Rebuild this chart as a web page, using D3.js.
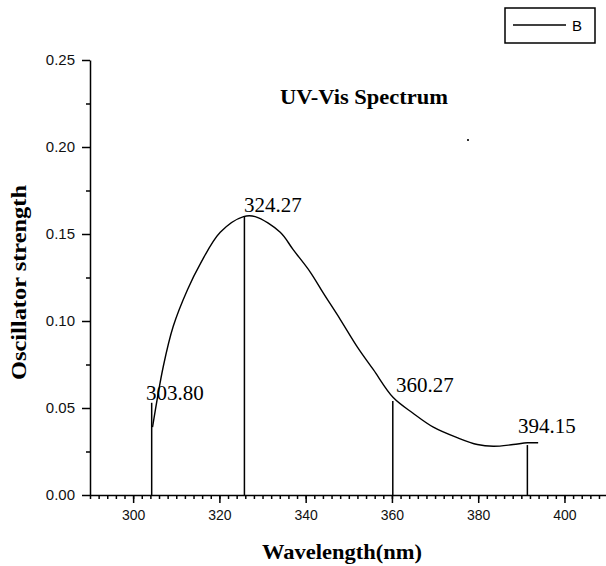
<!DOCTYPE html>
<meta charset="utf-8">
<style>
  body { margin: 0; background: #fff; }
  svg { display: block; }
</style>
<script src="https://d3js.org/d3.v7.min.js"></script>
<div id="chart"></div>
<script>
// curve (wavelength, oscillator strength)
var curveX = [304.5, 307.0, 309.3, 312.6, 315.6, 320.2, 325.6, 328.3, 334.1, 337.1, 341.1, 344.1, 348.0, 352.0, 355.7, 360.3, 364.9, 369.6, 375.1, 379.8, 383.5, 388.1, 391.4, 393.9];
var curveY = [0.039, 0.074, 0.097, 0.118, 0.133, 0.151, 0.160, 0.160, 0.151, 0.141, 0.128, 0.116, 0.101, 0.085, 0.072, 0.056, 0.047, 0.039, 0.033, 0.029, 0.028, 0.029, 0.030, 0.030];

// the sticks and their labels
var stickX = [304.3, 325.8, 360.2, 391.4];
var stickY = [0.053, 0.160, 0.054, 0.0287];
var stickLabels = ["303.80", "324.27", "360.27", "394.15"];

var xTicks = [300, 320, 340, 360, 380, 400];
var yTicks = [0, 0.05, 0.10, 0.15, 0.20, 0.25];

var W = 606, H = 566;
var svg = d3.select("#chart").append("svg")
    .attr("width", W).attr("height", H);

var x = d3.scaleLinear().domain([290, 410]).range([90, 607.6]);
var y = d3.scaleLinear().domain([0, 0.25]).range([495, 60]);

// x axis, minor ticks then major
svg.append("g")
    .attr("transform", "translate(0,495)")
    .call(d3.axisBottom(x).tickValues(d3.range(290, 411, 2)).tickSize(4).tickSizeOuter(0).tickFormat(""))
    .call(g => g.select(".domain").remove());
svg.append("g")
    .attr("transform", "translate(0,495)")
    .call(d3.axisBottom(x).tickValues(xTicks).tickSize(8).tickSizeOuter(0).tickPadding(7).tickFormat(d3.format("d")))
    .call(g => g.selectAll("text").attr("font-size", 14).attr("fill", "#111").attr("font-family", "Liberation Sans, Arial, sans-serif"));

// y axis
svg.append("g")
    .attr("transform", "translate(90,0)")
    .call(d3.axisLeft(y).tickValues([0.025, 0.075, 0.125, 0.175, 0.225]).tickSize(4).tickSizeOuter(0).tickFormat(""))
    .call(g => g.select(".domain").remove());
svg.append("g")
    .attr("transform", "translate(90,0)")
    .call(d3.axisLeft(y).tickValues(yTicks).tickSize(8).tickSizeOuter(0).tickPadding(7).tickFormat(d3.format(".2f")))
    .call(g => g.selectAll("text").attr("font-size", 15).attr("fill", "#111").attr("font-family", "Liberation Sans, Arial, sans-serif"));

svg.selectAll(".domain, .tick line").attr("stroke", "#000").attr("stroke-width", 1.5);

// sticks
svg.selectAll("line.stick")
  .data(stickX)
  .enter().append("line")
    .attr("class", "stick")
    .attr("x1", d => x(d)).attr("x2", d => x(d))
    .attr("y1", y(0))
    .attr("y2", (d, i) => y(stickY[i]))
    .attr("stroke", "#000").attr("stroke-width", 1.5);

// spectrum curve
var pts = curveX.map((d, i) => [d, curveY[i]]);
svg.append("path")
    .datum(pts)
    .attr("fill", "none")
    .attr("stroke", "#000")
    .attr("stroke-width", 1.4)
    .attr("d", d3.line().x(d => x(d[0])).y(d => y(d[1])).curve(d3.curveCatmullRom));

// stick labels
var labelPos = [[146, 400], [244, 212], [396, 392], [518, 433]];
svg.selectAll("text.peak")
  .data(stickLabels)
  .enter().append("text")
    .attr("class", "peak")
    .attr("x", (d, i) => labelPos[i][0])
    .attr("y", (d, i) => labelPos[i][1])
    .attr("font-family", "Liberation Serif, Times New Roman, serif")
    .attr("font-size", 21)
    .text(d => d);

// title
svg.append("text")
    .attr("x", 280).attr("y", 104)
    .attr("font-family", "Liberation Serif, Times New Roman, serif")
    .attr("font-weight", "bold").attr("font-size", 20)
    .attr("textLength", 168).attr("lengthAdjust", "spacingAndGlyphs")
    .text("UV-Vis Spectrum");

// stray dot
svg.append("rect").attr("x", 467).attr("y", 139).attr("width", 2).attr("height", 2).attr("fill", "#333");

// axis titles
svg.append("text")
    .attr("x", 262).attr("y", 559)
    .attr("font-family", "Liberation Serif, Times New Roman, serif")
    .attr("font-weight", "bold").attr("font-size", 21)
    .attr("textLength", 160).attr("lengthAdjust", "spacingAndGlyphs")
    .text("Wavelength(nm)");
svg.append("text")
    .attr("transform", "translate(26,380) rotate(-90)")
    .attr("font-family", "Liberation Serif, Times New Roman, serif")
    .attr("font-weight", "bold").attr("font-size", 20)
    .attr("textLength", 195).attr("lengthAdjust", "spacingAndGlyphs")
    .text("Oscillator strength");

// legend
var leg = svg.append("g");
leg.append("rect")
    .attr("x", 505).attr("y", 8).attr("width", 90).attr("height", 35)
    .attr("fill", "none").attr("stroke", "#000").attr("stroke-width", 1.5);
leg.append("line")
    .attr("x1", 513).attr("x2", 566).attr("y1", 25).attr("y2", 25)
    .attr("stroke", "#000").attr("stroke-width", 1.5);
leg.append("text")
    .attr("x", 572).attr("y", 31)
    .attr("font-family", "Liberation Sans, Arial, sans-serif")
    .attr("font-size", 15)
    .text("B");
</script>
